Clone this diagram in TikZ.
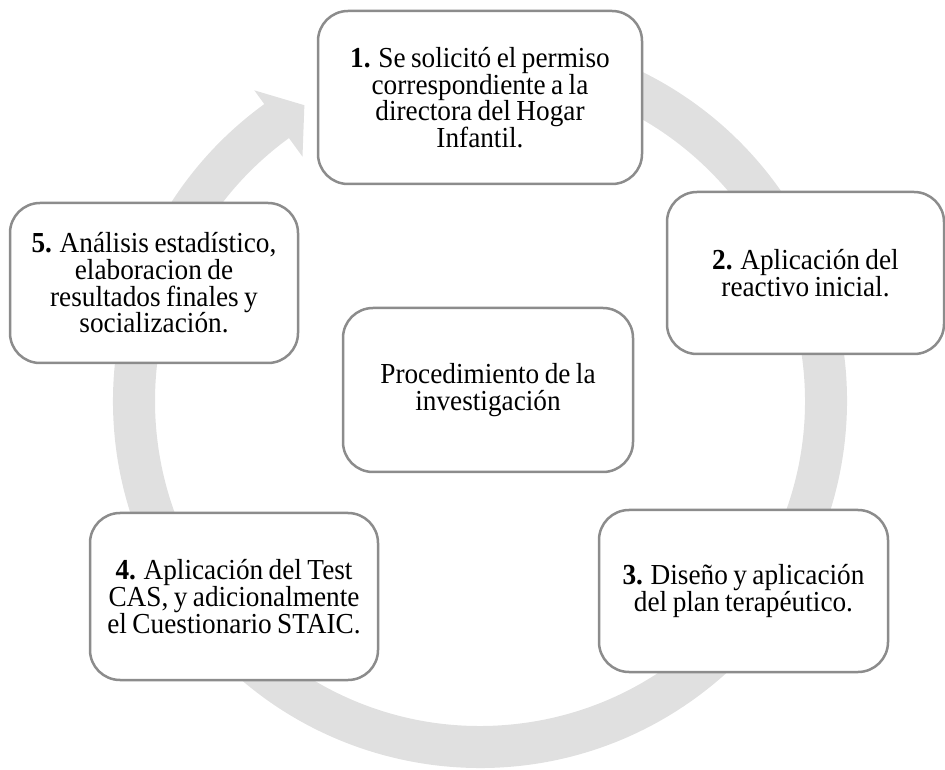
\documentclass[tikz,border=0pt]{standalone}
\usepackage{fontspec}
\setmainfont{Liberation Serif}[FakeStretch=0.94, WordSpace=0.8]
\definecolor{boxline}{RGB}{140,140,140}
\definecolor{ringgrey}{RGB}{224,224,224}
\begin{document}
\begin{tikzpicture}[x=1pt, y=1pt]
		\tikzset{stp/.style={rectangle, rounded corners=30pt, draw=boxline, line width=2.5pt, fill=white, align=center, inner sep=0pt, font=\fontsize{29pt}{26.7pt}\selectfont}};
		\useasboundingbox (0,0) rectangle (945,769);

		% circular arrow behind the boxes
		\coordinate (c) at (480,368);
		\fill[ringgrey] ([shift={(c)}]126:367pt) arc[start angle=126, end angle=455, radius=367pt]
			-- ([shift={(c)}]95:325pt) arc[start angle=455, end angle=126, radius=325pt]
			-- ([shift={(c)}]126:302pt) -- ([shift={(c)}]120.7:344pt) -- ([shift={(c)}]126:384pt) -- cycle;

		\node[stp, minimum width=324pt, minimum height=173pt] (p1) at (480,671.5) {\textbf{1.} Se solicitó el permiso\\correspondiente a la\\directora del Hogar\\Infantil.};
		\node[stp, minimum width=277pt, minimum height=162pt] (p2) at (805.5,496) {\textbf{2.} Aplicación del\\reactivo inicial.};
		\node[stp, minimum width=289pt, minimum height=162pt] (p3) at (743.5,178) {\textbf{3.} Diseño y aplicación\\del plan terapéutico.};
		\node[stp, minimum width=288pt, minimum height=167pt] (p4) at (234,172.5) {\textbf{4.} Aplicación del Test\\CAS, y adicionalmente\\el Cuestionario STAIC.};
		\node[stp, minimum width=288pt, minimum height=160pt] (p5) at (154,486) {\textbf{5.} Análisis estadístico,\\elaboracion de\\resultados finales y\\socialización.};
		\node[stp, minimum width=290pt, minimum height=164pt] (mid) at (488,379) {Procedimiento de la\\investigación};
	\end{tikzpicture}
\end{document}
